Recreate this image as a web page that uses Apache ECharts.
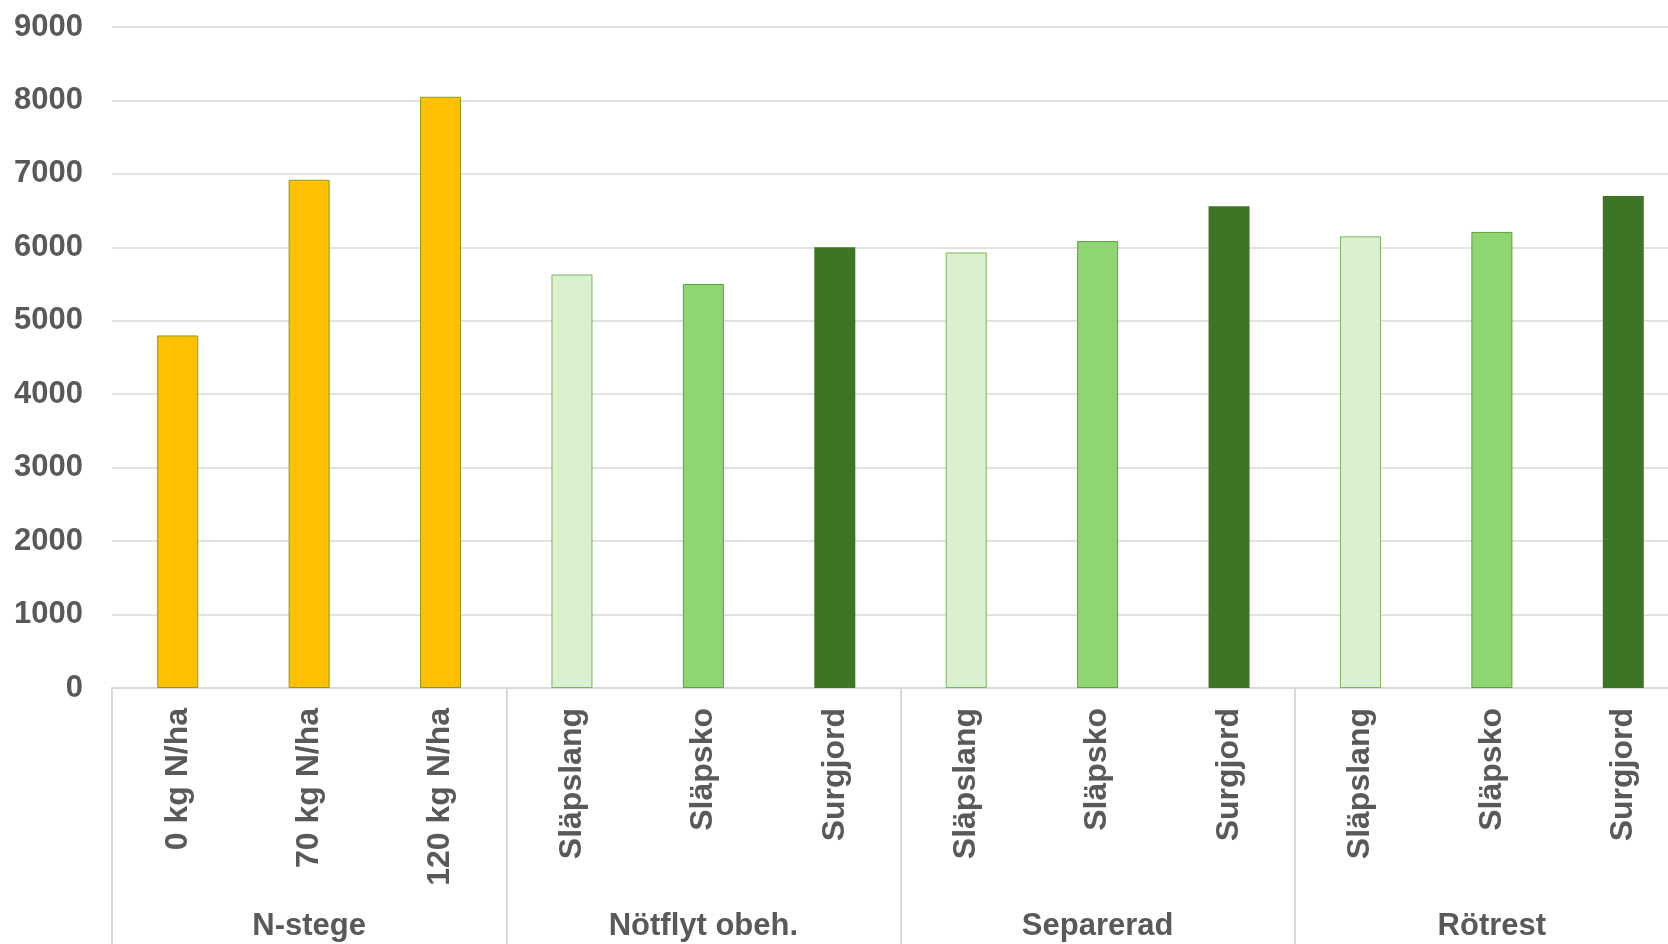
<!DOCTYPE html>
<html>
<head>
<meta charset="utf-8">
<title>Skörd per behandling</title>
<script src="https://cdn.jsdelivr.net/npm/echarts@6/dist/echarts.min.js"></script>
<style>
  html, body { margin: 0; padding: 0; background: #ffffff; overflow: hidden; }
  #chart { width: 1689px; height: 944px; }
</style>
</head>
<body>
<div id="chart"></div>
<script>
// Treatment groups along the bottom and the treatments inside each group
const groups = ['N-stege', 'Nötflyt obeh.', 'Separerad', 'Rötrest'];
const treatments = [
  '0 kg N/ha', '70 kg N/ha', '120 kg N/ha',
  'Släpslang', 'Släpsko', 'Surgjord',
  'Släpslang', 'Släpsko', 'Surgjord',
  'Släpslang', 'Släpsko', 'Surgjord'
];
// Yield for each treatment, in the order above
const yields = [4800, 6920, 8050, 5630, 5500, 6000, 5930, 6085, 6560, 6150, 6210, 6700];
// Value axis range
const yMin = 0, yMax = 9000, yStep = 1000;

// Fill / outline per application method
const methodStyle = {
  'Släpslang': { color: '#DAF1CF', borderColor: '#7DB35C', borderWidth: 1 },
  'Släpsko':   { color: '#8FD672', borderColor: '#5E9F3F', borderWidth: 1 },
  'Surgjord':  { color: '#3D7525', borderColor: '#3D7525', borderWidth: 0 }
};
const mineralStyle = { color: '#FFC000', borderColor: '#8C9A1C', borderWidth: 1 };

const textColor = '#595959';
const lineColor = '#D9D9D9';
const font = "'Liberation Sans', Arial, sans-serif";

const barData = yields.map((v, i) => ({
  value: v,
  itemStyle: methodStyle[treatments[i]] || mineralStyle
}));

const chart = echarts.init(document.getElementById('chart'), null, { renderer: 'canvas' });
chart.setOption({
  animation: false,
  backgroundColor: '#ffffff',
  grid: { left: 112, right: 0, top: 27, bottom: 256, containLabel: false },
  xAxis: [
    {
      type: 'category',
      data: treatments,
      position: 'bottom',
      axisLine: { show: true, lineStyle: { color: lineColor, width: 2 } },
      axisTick: { show: false },
      axisLabel: {
        interval: 0,
        rotate: 90,
        margin: 20,
        color: textColor,
        fontFamily: font,
        fontWeight: 'bold',
        fontSize: 32
      }
    },
    {
      type: 'category',
      data: groups,
      position: 'bottom',
      axisLine: { show: false },
      axisTick: {
        show: true,
        length: 260,
        lineStyle: { color: lineColor, width: 2 }
      },
      axisLabel: {
        interval: 0,
        margin: 223,
        color: textColor,
        fontFamily: font,
        fontWeight: 'bold',
        fontSize: 31
      },
      splitLine: { show: false }
    }
  ],
  yAxis: {
    type: 'value',
    min: yMin,
    max: yMax,
    interval: yStep,
    axisLine: { show: false },
    axisTick: { show: false },
    axisLabel: {
      margin: 29,
      formatter: v => String(v),
      color: textColor,
      fontFamily: font,
      fontWeight: 'bold',
      fontSize: 31
    },
    splitLine: { lineStyle: { color: lineColor, width: 1.5 } }
  },
  series: [
    {
      type: 'bar',
      xAxisIndex: 0,
      barWidth: 41,
      data: barData
    }
  ]
});
</script>
</body>
</html>
